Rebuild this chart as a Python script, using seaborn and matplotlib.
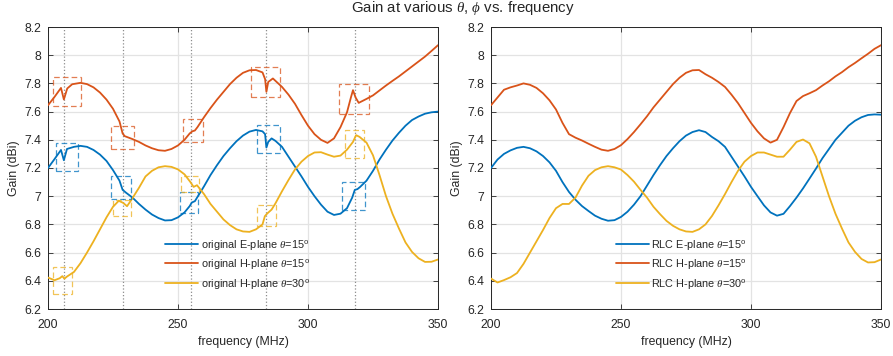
import numpy as np
import pandas as pd
import matplotlib
matplotlib.use("Agg")
import matplotlib.pyplot as plt
from matplotlib.patches import Rectangle
import seaborn as sns

# ---------------- data ----------------
series_names = ["E-plane 15", "H-plane 15", "H-plane 30"]
orig_labels = [r"original E-plane $\theta$=15$^{\rm o}$",
               r"original H-plane $\theta$=15$^{\rm o}$",
               r"original H-plane $\theta$=30$^{\rm o}$"]
rlc_labels = [r"RLC E-plane $\theta$=15$^{\rm o}$",
              r"RLC H-plane $\theta$=15$^{\rm o}$",
              r"RLC H-plane $\theta$=30$^{\rm o}$"]
colors = ["#0072BD", "#D95319", "#EDB120"]

# original (left panel)
freq_orig_E = [200, 202.5, 205, 206.1, 207.3, 210, 212.5, 215, 217.5, 220, 222.5, 225, 227.5, 228.7,
               230, 232.5, 235, 237.5, 240, 242.5, 245, 247.5, 250, 252.5, 254.5, 255.3, 256.5, 257.5,
               260, 262.5, 265, 267.5, 270, 272.5, 275, 277.5, 280, 282.5, 283.5, 284, 284.7, 286,
               287.5, 290, 292.5, 295, 297.5, 300, 302.5, 305, 307.5, 310, 312.5, 315, 317, 318, 319,
               320, 322.5, 325, 327.5, 330, 332.5, 335, 337.5, 340, 342.5, 345, 347.5, 350]
gain_orig_E = [7.20, 7.263, 7.328, 7.255, 7.335, 7.35, 7.357, 7.35, 7.328, 7.295, 7.25, 7.185, 7.11,
               7.045, 7.025, 6.99, 6.945, 6.905, 6.87, 6.845, 6.828, 6.83, 6.85, 6.885, 6.93, 6.955,
               6.965, 6.995, 7.07, 7.15, 7.22, 7.285, 7.34, 7.39, 7.43, 7.458, 7.47, 7.46, 7.44, 7.345,
               7.385, 7.41, 7.392, 7.35, 7.28, 7.21, 7.14, 7.066, 7.0, 6.94, 6.89, 6.867, 6.876, 6.915,
               6.99, 7.045, 7.05, 7.065, 7.11, 7.18, 7.26, 7.33, 7.395, 7.45, 7.50, 7.54, 7.565, 7.585,
               7.595, 7.60]

freq_orig_H15 = [200, 202.5, 205, 206.1, 207.4, 209.3, 212.5, 215, 217.5, 220, 222.5, 225, 227.5,
                 228.7, 229.5, 232.5, 235, 237.5, 240, 242.5, 245, 247.5, 250, 252.5, 254.5, 255.5,
                 256.5, 257.5, 260, 262.5, 265, 267.5, 270, 272.5, 275, 277.5, 280, 282.5, 283.5, 284,
                 284.7, 286.5, 290, 292.5, 295, 297.5, 300, 302.5, 305, 307.5, 310, 312.5, 315, 316.5,
                 317.3, 318.3, 319.5, 322.5, 325, 327.5, 330, 332.5, 335, 337.5, 340, 342.5, 345,
                 347.5, 350]
gain_orig_H15 = [7.645, 7.704, 7.768, 7.686, 7.764, 7.794, 7.804, 7.795, 7.772, 7.735, 7.685, 7.62,
                 7.53, 7.445, 7.426, 7.405, 7.385, 7.36, 7.34, 7.326, 7.322, 7.335, 7.36, 7.40, 7.445,
                 7.46, 7.466, 7.49, 7.56, 7.625, 7.685, 7.74, 7.795, 7.84, 7.875, 7.893, 7.895, 7.878,
                 7.83, 7.74, 7.81, 7.835, 7.775, 7.72, 7.655, 7.575, 7.5, 7.44, 7.40, 7.378, 7.41,
                 7.49, 7.595, 7.70, 7.752, 7.70, 7.662, 7.69, 7.715, 7.75, 7.785, 7.818, 7.85, 7.885,
                 7.92, 7.955, 7.99, 8.03, 8.071]

freq_orig_H30 = [200, 202.5, 204.5, 205.5, 206.3, 207.3, 210, 212.5, 215, 217.5, 220, 222.5, 225,
                 227.2, 228.9, 230.4, 232, 235, 237.5, 240, 242.5, 245, 247.5, 250, 252.5, 254.7,
                 256, 257.3, 260, 262.5, 265, 267.5, 270, 272.5, 275, 277.5, 280, 282.5, 283.4,
                 284.3, 286, 287.5, 290, 292.5, 295, 297.5, 300, 302.5, 305, 307.5, 310, 312.5, 315,
                 317.3, 318.5, 319.8, 322.5, 325, 327.5, 330, 332.5, 335, 337.5, 340, 342.5, 345,
                 347.5, 350]
gain_orig_H30 = [6.423, 6.404, 6.418, 6.433, 6.415, 6.43, 6.463, 6.525, 6.60, 6.68, 6.765, 6.85,
                 6.925, 6.967, 6.953, 6.929, 6.972, 7.06, 7.14, 7.18, 7.205, 7.213, 7.208, 7.19,
                 7.155, 7.102, 7.066, 7.078, 7.015, 6.945, 6.89, 6.835, 6.795, 6.765, 6.75, 6.747,
                 6.765, 6.80, 6.858, 6.877, 6.905, 6.95, 7.035, 7.115, 7.19, 7.245, 7.285, 7.31,
                 7.312, 7.295, 7.28, 7.288, 7.33, 7.385, 7.433, 7.421, 7.38, 7.29, 7.15, 7.0, 6.875,
                 6.77, 6.672, 6.605, 6.56, 6.534, 6.535, 6.551]

# RLC (right panel)
freq_rlc = [200, 202.5, 205, 207.5, 210, 212.5, 215, 217.5, 220, 222.5,
            225, 227.5, 230, 232.5, 235, 237.5, 240, 242.5, 245, 247.5,
            250, 252.5, 255, 257.5, 260, 262.5, 265, 267.5, 270, 272.5,
            275, 277.5, 280, 282.5, 285, 287.5, 290, 292.5, 295, 297.5,
            300, 302.5, 305, 307.5, 310, 312.5, 315, 317.5, 320, 322.5,
            325, 327.5, 330, 332.5, 335, 337.5, 340, 342.5, 345, 347.5, 350]
gain_rlc_E = [7.20, 7.26, 7.30, 7.325, 7.343, 7.35, 7.34, 7.318, 7.285, 7.24,
              7.18, 7.10, 7.03, 6.975, 6.93, 6.895, 6.862, 6.84, 6.826, 6.83,
              6.853, 6.89, 6.94, 7.0, 7.075, 7.15, 7.22, 7.285, 7.34, 7.39,
              7.43, 7.455, 7.468, 7.455, 7.42, 7.39, 7.35, 7.28, 7.21, 7.14,
              7.066, 7.0, 6.935, 6.885, 6.862, 6.875, 6.93, 6.99, 7.055, 7.125,
              7.196, 7.27, 7.335, 7.4, 7.45, 7.50, 7.535, 7.56, 7.576, 7.58, 7.578]
gain_rlc_H15 = [7.645, 7.70, 7.755, 7.772, 7.785, 7.80, 7.79, 7.768, 7.73, 7.68,
                7.615, 7.52, 7.44, 7.415, 7.395, 7.372, 7.35, 7.33, 7.322, 7.335,
                7.362, 7.405, 7.455, 7.51, 7.567, 7.63, 7.685, 7.74, 7.795, 7.84,
                7.875, 7.893, 7.895, 7.865, 7.84, 7.81, 7.775, 7.72, 7.66, 7.59,
                7.52, 7.46, 7.41, 7.38, 7.40, 7.49, 7.59, 7.675, 7.71, 7.73,
                7.752, 7.785, 7.815, 7.85, 7.88, 7.915, 7.945, 7.978, 8.01, 8.045, 8.071]
gain_rlc_H30 = [6.416, 6.388, 6.405, 6.425, 6.455, 6.52, 6.60, 6.68, 6.76, 6.845,
                6.915, 6.945, 6.945, 6.99, 7.075, 7.145, 7.185, 7.205, 7.213, 7.205,
                7.189, 7.15, 7.103, 7.045, 6.99, 6.925, 6.873, 6.825, 6.79, 6.765,
                6.75, 6.747, 6.765, 6.80, 6.86, 6.935, 7.015, 7.1, 7.18, 7.245,
                7.285, 7.31, 7.31, 7.295, 7.28, 7.28, 7.33, 7.385, 7.402, 7.375,
                7.28, 7.14, 7.0, 6.875, 6.77, 6.672, 6.605, 6.555, 6.53, 6.532, 6.551]

# resonance markers and highlight boxes (left panel)
marker_freqs = [206, 229, 255, 284, 318]
box_series = [1, 0, 2, 1, 0, 2, 1, 0, 2, 1, 0, 2, 1, 0, 2]
box_f0 = [201.9, 202.9, 202.0, 224.4, 224.4, 224.9, 251.9, 250.9, 251.2, 278.0, 280.2, 280.4, 312.1, 313.0, 314.1]
box_f1 = [212.8, 211.5, 209.4, 233.2, 232.1, 232.0, 259.6, 257.7, 258.1, 289.1, 289.1, 287.6, 323.4, 322.0, 321.5]
box_g0 = [7.638, 7.177, 6.305, 7.333, 6.981, 6.861, 7.381, 6.882, 7.031, 7.700, 7.303, 6.787, 7.586, 6.901, 7.274]
box_g1 = [7.846, 7.374, 6.499, 7.499, 7.144, 6.972, 7.551, 7.031, 7.142, 7.913, 7.504, 6.936, 7.799, 7.102, 7.468]

x_ticks = [200, 250, 300, 350]
y_ticks = [6.2, 6.4, 6.6, 6.8, 7.0, 7.2, 7.4, 7.6, 7.8, 8.0, 8.2]
y_tick_labels = ["6.2", "6.4", "6.6", "6.8", "7", "7.2", "7.4", "7.6", "7.8", "8", "8.2"]

# ---------------- style ----------------
sns.set_theme(style="white")
plt.rcParams["font.family"] = ["Liberation Sans", "DejaVu Sans"]
plt.rcParams["mathtext.fontset"] = "custom"
plt.rcParams["mathtext.rm"] = "Liberation Sans"
plt.rcParams["mathtext.it"] = "Liberation Serif:italic"
plt.rcParams["mathtext.bf"] = "Liberation Sans:bold"

fig = plt.figure(figsize=(8.93, 3.56), dpi=100)
ax1 = fig.add_axes([48 / 893, 1 - 309 / 356, 390 / 893, 282 / 356])
ax2 = fig.add_axes([491 / 893, 1 - 309 / 356, 390 / 893, 282 / 356])


def build_df(freqs, gains):
    frames = []
    for name, f, g in zip(series_names, freqs, gains):
        frames.append(pd.DataFrame({"freq": f, "gain": g, "series": name}))
    return pd.concat(frames, ignore_index=True)


df_orig = build_df([freq_orig_E, freq_orig_H15, freq_orig_H30],
                   [gain_orig_E, gain_orig_H15, gain_orig_H30])
df_rlc = build_df([freq_rlc] * 3, [gain_rlc_E, gain_rlc_H15, gain_rlc_H30])
palette = dict(zip(series_names, colors))

for ax, df, labels, lx in [(ax1, df_orig, orig_labels, 0.29), (ax2, df_rlc, rlc_labels, 0.31)]:
    sns.lineplot(data=df, x="freq", y="gain", hue="series", hue_order=series_names,
                 palette=palette, estimator=None, ax=ax, linewidth=1.3, legend=False, zorder=3)
    handles = ax.get_lines()[:3]
    ax.set_xlim(200, 350)
    ax.set_ylim(6.2, 8.2)
    ax.set_xticks(x_ticks)
    ax.set_xticklabels([str(t) for t in x_ticks])
    ax.set_yticks(y_ticks)
    ax.set_yticklabels(y_tick_labels)
    ax.grid(True, color="#e3e3e3", linewidth=0.9, zorder=0)
    ax.set_axisbelow(True)
    for sp in ax.spines.values():
        sp.set_color("#262626")
        sp.set_linewidth(0.7)
        sp.set_visible(True)
    ax.tick_params(direction="in", length=3.5, width=0.6, color="#262626",
                   labelsize=8.8, labelcolor="#262626", pad=5,
                   top=True, right=True, bottom=True, left=True)
    ax.tick_params(axis="x", pad=7)
    ax.set_xlabel("frequency (MHz)", fontsize=8.8, color="#262626", labelpad=4)
    ax.set_ylabel("Gain (dBi)", fontsize=8.8, color="#262626", labelpad=3)
    leg = ax.legend(handles, labels, loc="lower left", bbox_to_anchor=(lx, 0.05),
                    frameon=False, fontsize=7.8, handlelength=3.0, handletextpad=0.25,
                    labelspacing=0.5, borderaxespad=0)
    for t in leg.get_texts():
        t.set_color("#262626")

for f in marker_freqs:
    ax1.axvline(f, color="#8c8c8c", linestyle=":", linewidth=0.9, zorder=1)

for s, f0, f1, g0, g1 in zip(box_series, box_f0, box_f1, box_g0, box_g1):
    ax1.add_patch(Rectangle((f0, g0), f1 - f0, g1 - g0, fill=False,
                            edgecolor=colors[s], alpha=0.75, linestyle=(0, (4.5, 2.5)),
                            linewidth=0.9, zorder=4))

fig.text(463 / 893, 1 - 8 / 356, r"Gain at various $\theta$, $\phi$ vs. frequency",
         ha="center", va="center", fontsize=10.8, color="#262626")

fig.savefig("out.png", dpi=100)
